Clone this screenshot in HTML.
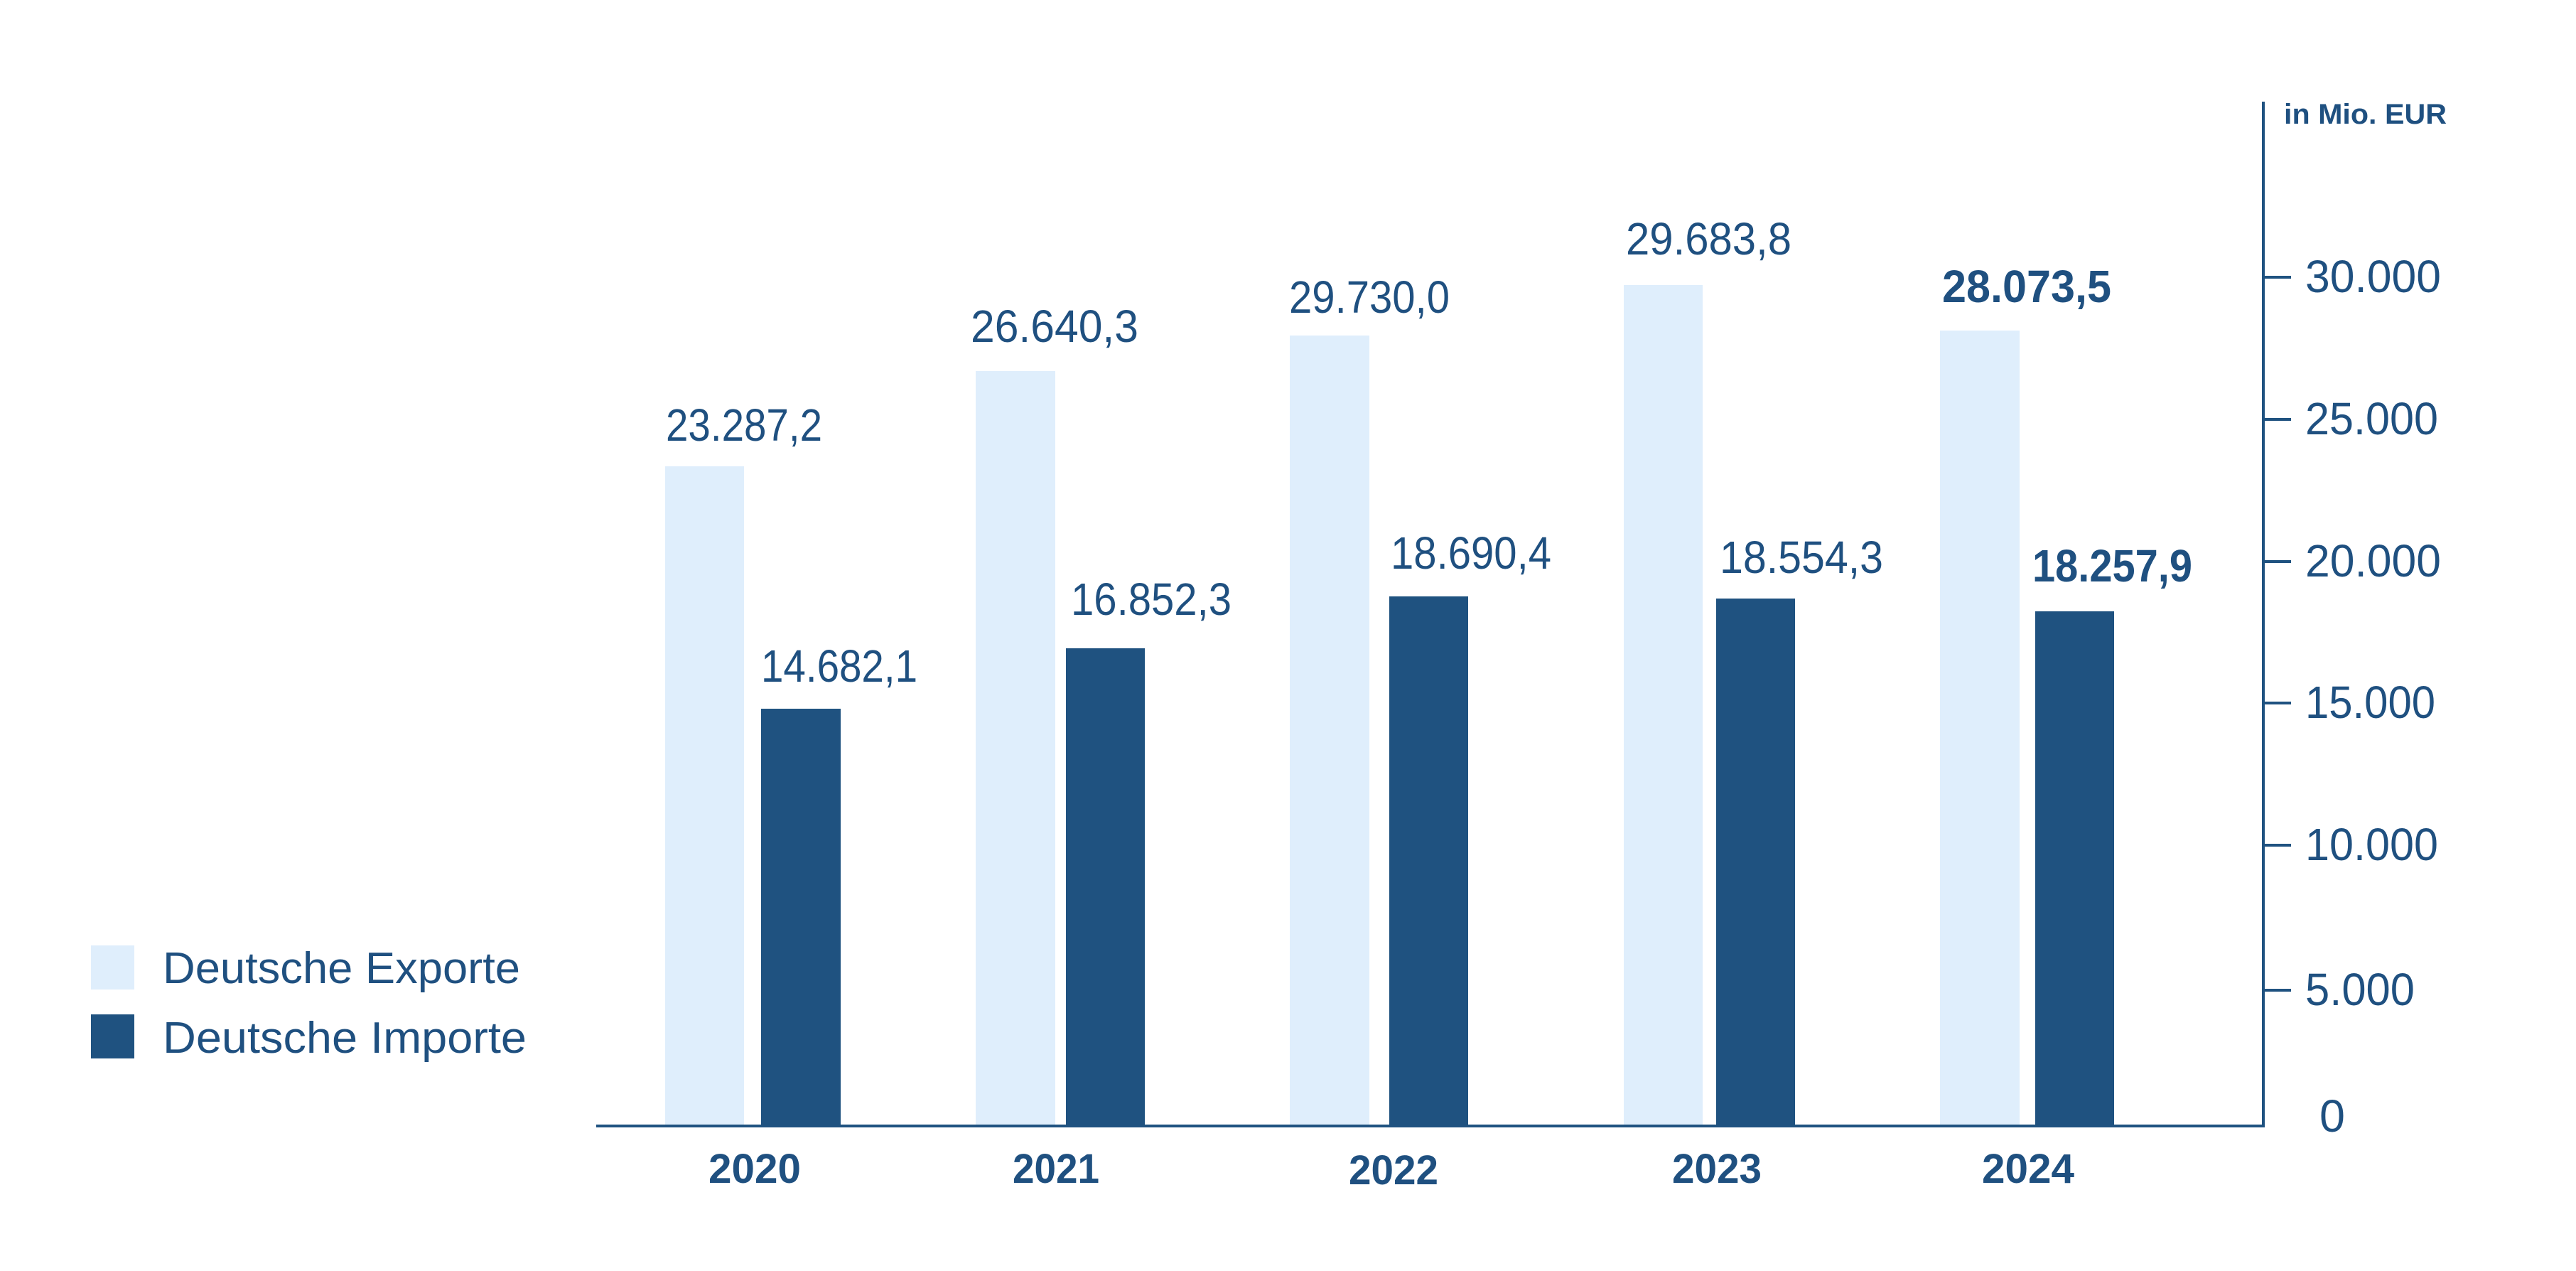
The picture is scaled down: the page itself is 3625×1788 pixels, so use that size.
<!DOCTYPE html>
<html><head><meta charset="utf-8"><style>
html,body{margin:0;padding:0;background:#fff;}
svg{display:block;}
text{font-family:"Liberation Sans",sans-serif;fill:#1f5080;}
</style></head><body>
<svg width="3625" height="1788" viewBox="0 0 3625 1788" xmlns="http://www.w3.org/2000/svg">
<g fill="#dfeefc">
<rect x="936" y="656" width="111" height="928"/>
<rect x="1373" y="522" width="112" height="1062"/>
<rect x="1815" y="472" width="112" height="1112"/>
<rect x="2285" y="401" width="111" height="1183"/>
<rect x="2730" y="465" width="112" height="1119"/>
</g>
<g fill="#1f5280">
<rect x="1071" y="997" width="112" height="587"/>
<rect x="1500" y="912" width="111" height="672"/>
<rect x="1955" y="839" width="111" height="745"/>
<rect x="2415" y="842" width="111" height="742"/>
<rect x="2864" y="860" width="111" height="724"/>
</g>
<rect x="839" y="1582" width="2348" height="4" fill="#1f5280"/>
<rect x="3183" y="143" width="4" height="1443" fill="#1f5280"/>
<g fill="#1f5280">
<rect x="3185" y="388" width="39" height="4"/>
<rect x="3185" y="588" width="39" height="4"/>
<rect x="3185" y="788" width="39" height="4"/>
<rect x="3185" y="987" width="39" height="4"/>
<rect x="3185" y="1187" width="39" height="4"/>
<rect x="3185" y="1391" width="39" height="4"/>
</g>
<g font-size="64">
<text x="3244" y="411" textLength="191" lengthAdjust="spacingAndGlyphs">30.000</text>
<text x="3244" y="611" textLength="187" lengthAdjust="spacingAndGlyphs">25.000</text>
<text x="3244" y="811" textLength="191" lengthAdjust="spacingAndGlyphs">20.000</text>
<text x="3244" y="1010" textLength="183" lengthAdjust="spacingAndGlyphs">15.000</text>
<text x="3244" y="1210" textLength="187" lengthAdjust="spacingAndGlyphs">10.000</text>
<text x="3244" y="1414" textLength="154" lengthAdjust="spacingAndGlyphs">5.000</text>
<text x="3264" y="1592" textLength="36" lengthAdjust="spacingAndGlyphs">0</text>
</g>
<text x="3214" y="174" font-size="40" font-weight="bold" textLength="229" lengthAdjust="spacingAndGlyphs">in Mio. EUR</text>
<g font-size="64">
<text x="937" y="620" textLength="220" lengthAdjust="spacingAndGlyphs">23.287,2</text>
<text x="1071" y="959" textLength="220" lengthAdjust="spacingAndGlyphs">14.682,1</text>
<text x="1366" y="481" textLength="236" lengthAdjust="spacingAndGlyphs">26.640,3</text>
<text x="1507" y="865" textLength="226" lengthAdjust="spacingAndGlyphs">16.852,3</text>
<text x="1814" y="440" textLength="226" lengthAdjust="spacingAndGlyphs">29.730,0</text>
<text x="1957" y="800" textLength="226" lengthAdjust="spacingAndGlyphs">18.690,4</text>
<text x="2288" y="358" textLength="233" lengthAdjust="spacingAndGlyphs">29.683,8</text>
<text x="2420" y="806" textLength="230" lengthAdjust="spacingAndGlyphs">18.554,3</text>
<text x="2733" y="425" font-weight="bold" textLength="238" lengthAdjust="spacingAndGlyphs">28.073,5</text>
<text x="2860" y="818" font-weight="bold" textLength="225" lengthAdjust="spacingAndGlyphs">18.257,9</text>
</g>
<g font-size="58" font-weight="bold" text-anchor="middle">
<text x="1062" y="1664" textLength="130" lengthAdjust="spacingAndGlyphs">2020</text>
<text x="1486" y="1664" textLength="122" lengthAdjust="spacingAndGlyphs">2021</text>
<text x="1961" y="1666" textLength="126" lengthAdjust="spacingAndGlyphs">2022</text>
<text x="2416" y="1664" textLength="126" lengthAdjust="spacingAndGlyphs">2023</text>
<text x="2854" y="1664" textLength="130" lengthAdjust="spacingAndGlyphs">2024</text>
</g>
<rect x="128" y="1330" width="61" height="62" fill="#dfeefc"/>
<rect x="128" y="1427" width="61" height="62" fill="#1f5280"/>
<g font-size="62">
<text x="229" y="1383" textLength="503" lengthAdjust="spacingAndGlyphs">Deutsche Exporte</text>
<text x="229" y="1481" textLength="512" lengthAdjust="spacingAndGlyphs">Deutsche Importe</text>
</g>
</svg>
</body></html>
